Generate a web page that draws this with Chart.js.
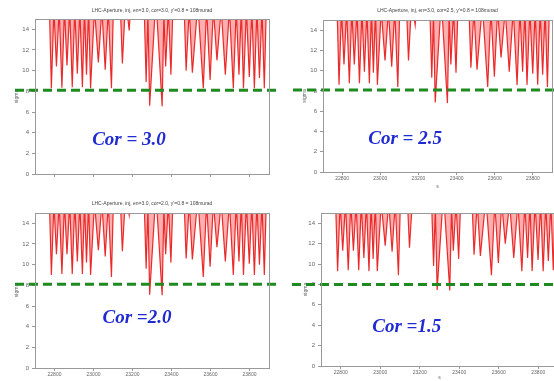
<!DOCTYPE html>
<html>
<head>
<meta charset="utf-8">
<script src="https://cdn.jsdelivr.net/npm/chart.js@4"></script>
<style>
  html, body { margin: 0; padding: 0; background: #fff; overflow: hidden; }
  body { width: 554px; height: 381px; position: relative; }
  canvas { position: absolute; }
</style>
</head>
<body>
<canvas id="cor30" width="277" height="190" style="left:0;top:0"></canvas>
<canvas id="cor25" width="280" height="190" style="left:277px;top:0"></canvas>
<canvas id="cor20" width="277" height="191" style="left:0;top:190px"></canvas>
<canvas id="cor15" width="284" height="191" style="left:277px;top:190px"></canvas>
<script>
// s positions (m) of the profile points, shared by all four runs
const sPos = [22700, 22774, 22784, 22797, 22810, 22824, 22838, 22851, 22864, 22878,
  22891, 22904, 22917, 22930, 22943, 22954, 22964, 22975, 22985, 23005,
  23025, 23043, 23060, 23076, 23092, 23102, 23138, 23148, 23165, 23183,
  23190, 23260, 23270, 23279, 23288, 23320, 23352, 23361, 23370, 23384,
  23397, 23407, 23465, 23475, 23491, 23507, 23535, 23563, 23580, 23598,
  23615, 23633, 23655, 23676, 23697, 23717, 23732, 23746, 23758, 23769,
  23784, 23799, 23812, 23825, 23838, 23851, 23864, 23876, 23886, 23900];

// aperture (sigma) for each correction setting
const apCor30 = [16, 16, 8.3, 16, 10.4, 16, 8.35, 16, 10.5, 16,
  8.4, 16, 9.7, 16, 8.4, 16, 9.6, 16, 8.3, 16,
  10.8, 16, 10.1, 16, 8.3, 16, 16, 10.7, 17, 13.9,
  16, 16, 8.9, 15.5, 6.6, 17, 6.55, 15.5, 10.4, 16,
  9.6, 16, 16, 10.0, 16, 9.8, 16.5, 8.3, 16, 9.1,
  16, 11.0, 16, 9.6, 16, 8.3, 16, 9.6, 16, 8.3,
  16, 9.4, 16, 8.3, 16, 9.3, 16, 8.3, 16, 16];
const apCor25 = [16, 16, 8.6, 16, 10.6, 16, 8.75, 16, 10.6, 16,
  8.75, 16, 9.9, 16, 8.75, 16, 9.8, 16, 8.6, 16,
  11.0, 16, 10.4, 16, 8.4, 16, 16, 11.0, 17, 14.5,
  16, 16, 9.3, 15.5, 6.85, 17, 6.8, 15.5, 10.6, 16,
  9.8, 16, 16, 10.3, 16, 10.1, 16.5, 8.4, 16, 9.4,
  16, 11.3, 16, 9.9, 16, 8.6, 16, 9.9, 16, 8.6,
  16, 9.7, 16, 8.6, 16, 9.6, 16, 8.4, 16, 16];
const apCor20 = [16, 16, 9.0, 16, 11.0, 16, 9.1, 16, 11.0, 16,
  9.1, 16, 10.3, 16, 9.1, 16, 10.2, 16, 9.0, 16,
  11.4, 16, 10.8, 16, 8.8, 16, 16, 11.3, 17, 14.8,
  16, 16, 9.6, 15.5, 7.1, 17, 7.05, 15.5, 11.0, 16,
  10.2, 16, 16, 10.6, 16, 10.5, 16.5, 8.8, 16, 9.8,
  16, 11.7, 16, 10.3, 16, 9.0, 16, 10.3, 16, 9.0,
  16, 10.1, 16, 9.0, 16, 10.0, 16, 9.0, 16, 16];
const apCor15 = [16, 16, 9.3, 16, 11.3, 16, 9.4, 16, 11.3, 16,
  9.4, 16, 10.6, 16, 9.3, 16, 10.5, 16, 9.3, 16,
  11.8, 16, 11.2, 16, 8.9, 16, 16, 11.6, 17, 15.2,
  16, 16, 9.8, 15.5, 7.45, 17, 7.4, 15.5, 11.3, 16,
  10.5, 16, 16, 10.9, 16, 10.8, 16.5, 8.9, 16, 10.1,
  16, 12.0, 16, 10.6, 16, 9.3, 16, 10.6, 16, 9.3,
  16, 10.4, 16, 9.3, 16, 10.3, 16, 9.4, 16, 16];

const limitLevel = [8.1, 8.1, 8.1, 8.0];
const xTicks = [22800, 23000, 23200, 23400, 23600, 23800];
const yTicks = [0, 2, 4, 6, 8, 10, 12, 14];
const corLabels = ['Cor = 3.0', 'Cor = 2.5', 'Cor =2.0', 'Cor =1.5'];
const titles = [
  "LHC-Aperture, inj, en=3.0, cor=3.0, y'=0.8 = 108murad",
  "LHC-Aperture, inj, en=3.0, cor=2.5, y'=0.8 = 108murad",
  "LHC-Aperture, inj, en=3.0, cor=2.0, y'=0.8 = 108murad",
  ''
];

const FONT = 'Liberation Sans';

// dashed green limit, runs past the plot frame like in the slide
const limitLine = {
  id: 'limitLine',
  afterDatasetsDraw(chart, args, opts) {
    const ctx = chart.ctx;
    const y = chart.scales.y.getPixelForValue(opts.value);
    ctx.save();
    ctx.strokeStyle = '#1f8a1f';
    ctx.lineWidth = 3;
    ctx.setLineDash([9, 5]);
    ctx.beginPath();
    ctx.moveTo(opts.from, y);
    ctx.lineTo(chart.width, y);
    ctx.stroke();
    ctx.restore();
  }
};

const frame = {
  id: 'frame',
  afterDraw(chart) {
    const a = chart.chartArea, ctx = chart.ctx;
    ctx.save();
    ctx.strokeStyle = '#999';
    ctx.lineWidth = 1;
    ctx.strokeRect(Math.round(a.left) + 0.5, Math.round(a.top) + 0.5,
      Math.round(a.right - a.left), Math.round(a.bottom - a.top));
    ctx.restore();
  }
};

const corLabel = {
  id: 'corLabel',
  afterDraw(chart, args, opts) {
    const ctx = chart.ctx;
    ctx.save();
    ctx.font = 'italic bold 19px "Liberation Serif"';
    ctx.fillStyle = '#1f2bd0';
    ctx.textAlign = 'center';
    ctx.textBaseline = 'middle';
    ctx.fillText(opts.text, chart.scales.x.getPixelForValue(opts.x),
      chart.scales.y.getPixelForValue(opts.y));
    ctx.restore();
  }
};

const panels = [
  { id: 'cor30', ap: apCor30, padL: 14, padR: 8, padT: 0, yW: 21, xH: 16, tTop: 8, tBot: 5, xLabels: false, xTitle: false, from: 15, at: [23182, 3.3] },
  { id: 'cor25', ap: apCor25, padL: 25, padR: 5, padT: 0, yW: 21, xH: 18, tTop: 8, tBot: 6, xLabels: true, xTitle: true, from: 16, at: [23130, 3.2] },
  { id: 'cor20', ap: apCor20, padL: 14, padR: 8, padT: 0, yW: 21, xH: 13, tTop: 11, tBot: 6, xLabels: true, xTitle: false, from: 15, at: [23223, 4.8] },
  { id: 'cor15', ap: apCor15, padL: 26, padR: 3, padT: 23, yW: 18, xH: 15, tTop: 0, tBot: 0, xLabels: true, xTitle: true, from: 15, at: [23134, 3.8] }
];

panels.forEach((p, i) => {
  new Chart(document.getElementById(p.id), {
    type: 'line',
    data: {
      datasets: [{
        data: sPos.map((s, k) => ({ x: s, y: p.ap[k] })),
        borderColor: 'rgba(232,24,24,0.9)',
        backgroundColor: 'rgba(255,95,95,0.5)',
        borderWidth: 1.2,
        fill: 'end',
        pointRadius: 0,
        tension: 0,
        clip: 0,
      }],
    },
    plugins: [limitLine, frame, corLabel],
    options: {
      responsive: false,
      animation: false,
      layout: { padding: { left: p.padL, right: p.padR, top: p.padT, bottom: 0 } },
      scales: {
        x: {
          type: 'linear',
          min: 22700,
          max: 23900,
          afterBuildTicks: s => { s.ticks = xTicks.map(v => ({ value: v })); },
          afterFit: s => { s.height = p.xH; },
          grid: { drawOnChartArea: false, tickLength: 3, color: '#999' },
          border: { color: '#999' },
          ticks: {
            display: p.xLabels,
            autoSkip: false,
            maxRotation: 0,
            padding: 1,
            color: '#666',
            font: { family: FONT, size: 5 },
            callback: v => String(v),
          },
          title: { display: p.xTitle, text: 's', color: '#666', font: { family: FONT, size: 5 }, padding: { top: 1, bottom: 0 } },
        },
        y: {
          min: 0,
          max: 15,
          afterBuildTicks: s => { s.ticks = yTicks.map(v => ({ value: v })); },
          afterFit: s => { s.width = p.yW; },
          grid: { drawOnChartArea: false, tickLength: 3, color: '#999' },
          border: { color: '#999' },
          ticks: {
            padding: 3,
            color: '#666',
            font: { family: FONT, size: 6 },
          },
          title: { display: true, text: 'sigma', color: '#666', font: { family: FONT, size: 5 }, padding: 0 },
        },
      },
      plugins: {
        legend: { display: false },
        tooltip: { enabled: false },
        title: {
          display: titles[i] !== '',
          text: titles[i],
          fullSize: false,
          color: '#444',
          font: { family: FONT, size: 5, weight: 'normal' },
          padding: { top: p.tTop, bottom: p.tBot },
        },
        limitLine: { value: limitLevel[i], from: p.from },
        corLabel: { text: corLabels[i], x: p.at[0], y: p.at[1] },
      },
    },
  });
});
</script>
</body>
</html>
